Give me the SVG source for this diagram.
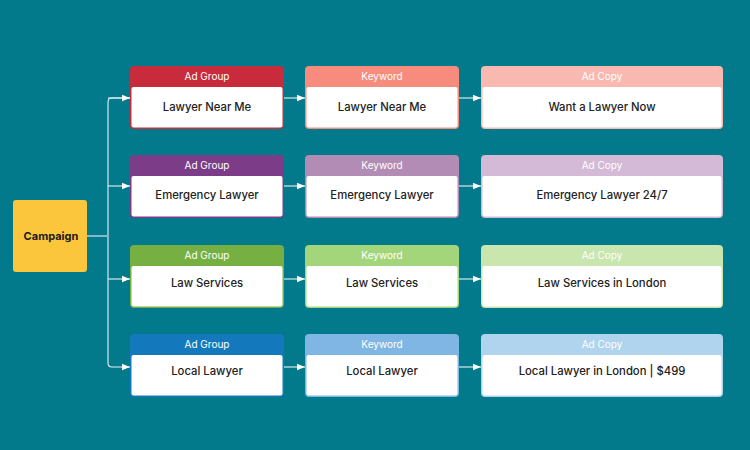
<svg xmlns="http://www.w3.org/2000/svg" width="750" height="450" viewBox="0 0 750 450">
<defs>
<marker id="arr" viewBox="0 0 10 10" refX="10" refY="5" markerWidth="8" markerHeight="8" markerUnits="userSpaceOnUse" orient="auto">
<path d="M0,1 L10,5 L0,9 z" fill="#ffffff"/>
</marker>
<style>
.hd{font-family:Inter,"Liberation Sans",sans-serif;font-size:10px;fill:#ffffff;text-anchor:middle}
.bd{font-family:Inter,"Liberation Sans",sans-serif;font-size:11.3px;fill:#222222;text-anchor:middle;font-weight:500}
.body{fill:#ffffff}
.ln{fill:none;stroke:#e6f2f4;stroke-width:1.1}
</style>
</defs>
<rect width="750" height="450" fill="#037A8C"/>
<g id="connectors">
<path class="ln" d="M87,236 H107"/>
<path class="ln" d="M130,98 H112 Q108,98 108,102 V363 Q108,367 112,367 H130" marker-end="url(#arr)"/>
<path class="ln" d="M108,98 Q108,98 112,98 H130" marker-end="url(#arr)"/>
<path class="ln" d="M108,186 H130" marker-end="url(#arr)"/>
<path class="ln" d="M108,279 H130" marker-end="url(#arr)"/>
<path class="ln" d="M284,98 H305" marker-end="url(#arr)"/>
<path class="ln" d="M459,98 H481" marker-end="url(#arr)"/>
<path class="ln" d="M284,186 H305" marker-end="url(#arr)"/>
<path class="ln" d="M459,186 H481" marker-end="url(#arr)"/>
<path class="ln" d="M284,279 H305" marker-end="url(#arr)"/>
<path class="ln" d="M459,279 H481" marker-end="url(#arr)"/>
<path class="ln" d="M284,367 H305" marker-end="url(#arr)"/>
<path class="ln" d="M459,367 H481" marker-end="url(#arr)"/>
</g>
<g id="campaign">
<rect x="13" y="200" width="74" height="72" rx="3" fill="#FCC63C"/>
<text x="51" y="240" font-family="Inter,'Liberation Sans',sans-serif" font-size="11" font-weight="700" fill="#1a1a1a" text-anchor="middle">Campaign</text>
</g>
<!-- Row 1 -->
<g id="adgroup1">
<rect x="130.5" y="66.5" width="153" height="62" rx="3" fill="#C82C3C" stroke="#C82C3C"/>
<rect x="131.5" y="87" width="151" height="40.5" rx="2" class="body"/>
<text class="hd" x="207" y="80">Ad Group</text>
<text class="bd" x="207" y="111">Lawyer Near Me</text>
</g>
<g id="keyword1">
<rect x="305.5" y="66.5" width="153" height="62" rx="3" fill="#F78C7E" stroke="#F78C7E"/>
<rect x="306.5" y="87" width="151" height="40.5" rx="2" class="body"/>
<text class="hd" x="382" y="80">Keyword</text>
<text class="bd" x="382" y="111">Lawyer Near Me</text>
</g>
<g id="adcopy1">
<rect x="481.5" y="66.5" width="241" height="62" rx="3" fill="#F9B9B0" stroke="#F9B9B0"/>
<rect x="482.5" y="87" width="239" height="40.5" rx="2" class="body"/>
<text class="hd" x="602" y="80">Ad Copy</text>
<text class="bd" x="602" y="111">Want a Lawyer Now</text>
</g>
<!-- Row 2 -->
<g id="adgroup2">
<rect x="130.5" y="155.5" width="153" height="62" rx="3" fill="#7D3C87" stroke="#7D3C87"/>
<rect x="131.5" y="176" width="151" height="40.5" rx="2" class="body"/>
<text class="hd" x="207" y="169">Ad Group</text>
<text class="bd" x="207" y="199">Emergency Lawyer</text>
</g>
<g id="keyword2">
<rect x="305.5" y="155.5" width="153" height="62" rx="3" fill="#B38CB5" stroke="#B38CB5"/>
<rect x="306.5" y="176" width="151" height="40.5" rx="2" class="body"/>
<text class="hd" x="382" y="169">Keyword</text>
<text class="bd" x="382" y="199">Emergency Lawyer</text>
</g>
<g id="adcopy2">
<rect x="481.5" y="155.5" width="241" height="62" rx="3" fill="#D4BAD6" stroke="#D4BAD6"/>
<rect x="482.5" y="176" width="239" height="40.5" rx="2" class="body"/>
<text class="hd" x="602" y="169">Ad Copy</text>
<text class="bd" x="602" y="199">Emergency Lawyer 24/7</text>
</g>
<!-- Row 3 -->
<g id="adgroup3">
<rect x="130.5" y="245.5" width="153" height="62" rx="3" fill="#76B043" stroke="#76B043"/>
<rect x="131.5" y="266" width="151" height="40.5" rx="2" class="body"/>
<text class="hd" x="207" y="259">Ad Group</text>
<text class="bd" x="207" y="287">Law Services</text>
</g>
<g id="keyword3">
<rect x="305.5" y="245.5" width="153" height="62" rx="3" fill="#A3D67A" stroke="#A3D67A"/>
<rect x="306.5" y="266" width="151" height="40.5" rx="2" class="body"/>
<text class="hd" x="382" y="259">Keyword</text>
<text class="bd" x="382" y="287">Law Services</text>
</g>
<g id="adcopy3">
<rect x="481.5" y="245.5" width="241" height="62" rx="3" fill="#C8E6AE" stroke="#C8E6AE"/>
<rect x="482.5" y="266" width="239" height="40.5" rx="2" class="body"/>
<text class="hd" x="602" y="259">Ad Copy</text>
<text class="bd" x="602" y="287">Law Services in London</text>
</g>
<!-- Row 4 -->
<g id="adgroup4">
<rect x="130.5" y="334.5" width="153" height="62" rx="3" fill="#1479BC" stroke="#1479BC"/>
<rect x="131.5" y="355" width="151" height="40.5" rx="2" class="body"/>
<text class="hd" x="207" y="348">Ad Group</text>
<text class="bd" x="207" y="375">Local Lawyer</text>
</g>
<g id="keyword4">
<rect x="305.5" y="334.5" width="153" height="62" rx="3" fill="#7FB6E4" stroke="#7FB6E4"/>
<rect x="306.5" y="355" width="151" height="40.5" rx="2" class="body"/>
<text class="hd" x="382" y="348">Keyword</text>
<text class="bd" x="382" y="375">Local Lawyer</text>
</g>
<g id="adcopy4">
<rect x="481.5" y="334.5" width="241" height="62" rx="3" fill="#B0D4EE" stroke="#B0D4EE"/>
<rect x="482.5" y="355" width="239" height="40.5" rx="2" class="body"/>
<text class="hd" x="602" y="348">Ad Copy</text>
<text class="bd" x="602" y="375">Local Lawyer in London | $499</text>
</g>
</svg>
